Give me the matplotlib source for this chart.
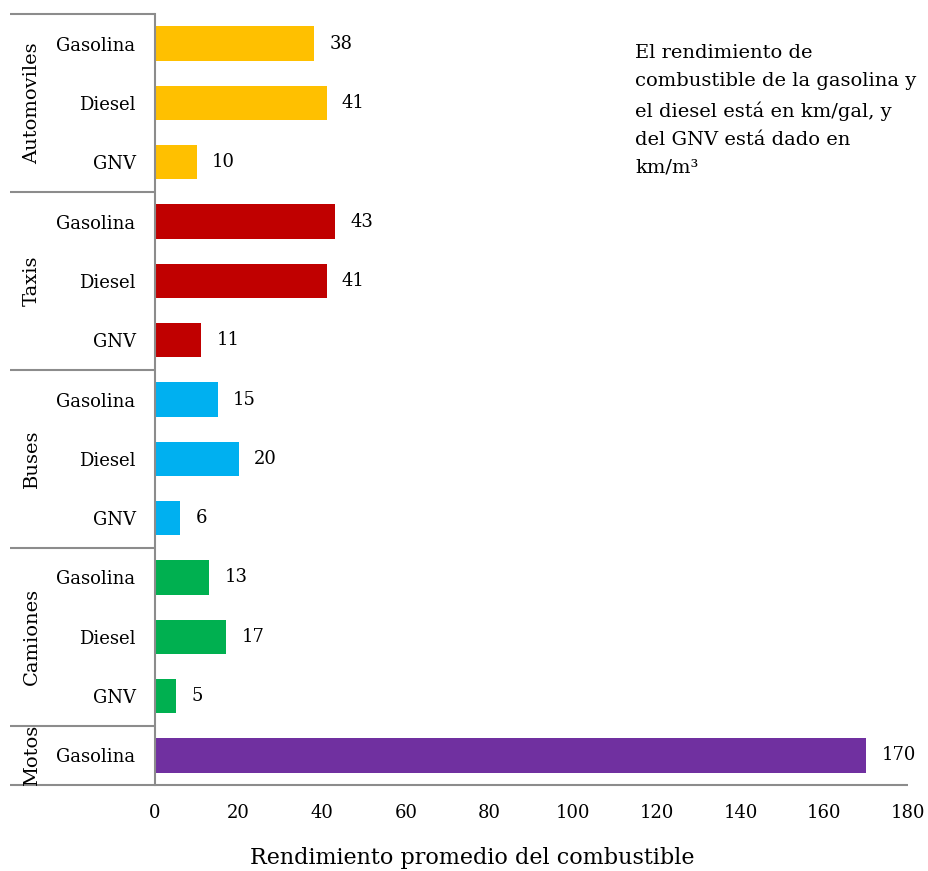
import matplotlib
matplotlib.use("Agg")
import matplotlib.pyplot as plt

# data
groups = ["Automoviles", "Taxis", "Buses", "Camiones", "Motos"]
group_fuels = [
    ["Gasolina", "Diesel", "GNV"],
    ["Gasolina", "Diesel", "GNV"],
    ["Gasolina", "Diesel", "GNV"],
    ["Gasolina", "Diesel", "GNV"],
    ["Gasolina"],
]
group_values = [
    [38, 41, 10],
    [43, 41, 11],
    [15, 20, 6],
    [13, 17, 5],
    [170],
]
group_colors = ["#FFC000", "#C00000", "#00B0F0", "#00B050", "#7030A0"]
x_ticks = [0, 20, 40, 60, 80, 100, 120, 140, 160, 180]

note = ("El rendimiento de\ncombustible de la gasolina y\n"
        "el diesel está en km/gal, y\ndel GNV está dado en\nkm/m³")

plt.rcParams["font.family"] = ["DejaVu Serif"]
W, H = 929, 871
fig = plt.figure(figsize=(W / 100, H / 100), dpi=100)
left, right, top, bottom = 155, 908, 14, 785
ax = fig.add_axes([left / W, 1 - bottom / H, (right - left) / W, (bottom - top) / H])

gray = "#8c8c8c"
labels, values, colors = [], [], []
for fuels, vals, col in zip(group_fuels, group_values, group_colors):
    labels += fuels
    values += vals
    colors += [col] * len(vals)
ypos = list(range(len(values)))

ax.barh(ypos, values, height=0.58, color=colors)
for y, v in zip(ypos, values):
    ax.annotate(str(v), (v, y), xytext=(11, 0), textcoords="offset points",
                va="center", ha="left", fontsize=13)

ax.set_xlim(0, 180)
ax.set_ylim(len(values) - 0.5, -0.5)
ax.set_xticks(x_ticks)
ax.set_yticks(ypos)
ax.set_yticklabels(labels)
ax.tick_params(axis="both", length=0, labelsize=13)
ax.tick_params(axis="x", pad=14)
ax.tick_params(axis="y", pad=14)
for s in ["top", "right", "bottom"]:
    ax.spines[s].set_visible(False)
ax.spines["left"].set_color(gray)
ax.spines["left"].set_linewidth(1.5)

# group separators and vertical group labels
tr = ax.get_yaxis_transform()
x_start = (10 - left) / (right - left)
x_glabel = (32 - left) / (right - left)
start = 0
bounds = [-0.5]
for g, fuels in zip(groups, group_fuels):
    end = start + len(fuels)
    bounds.append(end - 0.5)
    ax.text(x_glabel, (start + end - 1) / 2, g, rotation=90, transform=tr,
            ha="center", va="center", fontsize=14)
    start = end
for b in bounds:
    xe = 1.0 if b == bounds[-1] else 0.0
    ax.plot([x_start, xe], [b, b], transform=tr, color=gray, lw=1.5,
            clip_on=False, solid_capstyle="butt")

fig.text(472 / W, 1 - 858 / H, "Rendimiento promedio del combustible",
         ha="center", va="center", fontsize=16)
fig.text(635 / W, 1 - 44 / H, note, ha="left", va="top", fontsize=14,
         linespacing=1.72)

fig.savefig("out.png", dpi=100)
